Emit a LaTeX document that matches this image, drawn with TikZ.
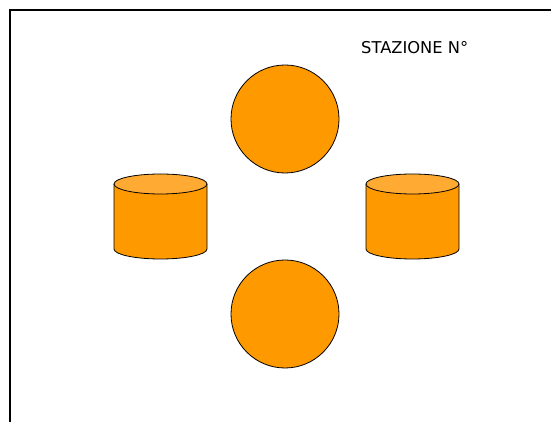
\documentclass[tikz,border=0pt]{standalone}
\usepackage{fontspec}
\setmainfont{DejaVu Sans}
\definecolor{orangebody}{HTML}{FF9900}
\definecolor{orangetop}{HTML}{FFAA33}

\begin{document}
\begin{tikzpicture}[x=1pt,y=1pt]
\useasboundingbox (0,0) rectangle (551,422);
\draw[line width=2pt] (10,0) -- (10,412) -- (551,412);
\node[anchor=base west,inner sep=0pt,font=\fontsize{16.3}{19}\selectfont] (title) at (361,368) {STAZIONE N°};
%\draw (0,0) rectangle (551,422);
\draw[fill=orangebody,line width=0.8pt] (285,303) circle (54);
\draw[fill=orangebody,line width=0.8pt] (285,108) circle (54);
\fill[orangebody] (114,238) -- (114,173) arc[start angle=180,end angle=360,x radius=46.5,y radius=10] -- (207,238) -- cycle;
\draw[line width=0.8pt] (114,238) -- (114,173) arc[start angle=180,end angle=360,x radius=46.5,y radius=10] -- (207,238);
\draw[fill=orangetop,line width=0.8pt] (160.5,238) ellipse[x radius=46.5,y radius=10];
\fill[orangebody] (366,238) -- (366,173) arc[start angle=180,end angle=360,x radius=46.5,y radius=10] -- (459,238) -- cycle;
\draw[line width=0.8pt] (366,238) -- (366,173) arc[start angle=180,end angle=360,x radius=46.5,y radius=10] -- (459,238);
\draw[fill=orangetop,line width=0.8pt] (412.5,238) ellipse[x radius=46.5,y radius=10];
\end{tikzpicture}
\end{document}
